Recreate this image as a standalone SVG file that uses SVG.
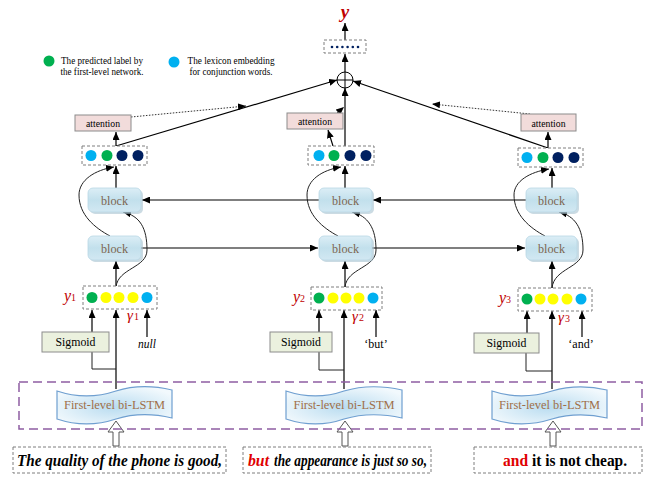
<svg xmlns="http://www.w3.org/2000/svg" width="652" height="477" viewBox="0 0 652 477">
<style>
.ser{font-family:"Liberation Serif","Times New Roman",serif}
.ln{fill:none;stroke:#000;stroke-width:1.2}
.thin{fill:none;stroke:#222;stroke-width:1}
.dot{fill:none;stroke:#333;stroke-width:1;stroke-dasharray:1.5 1.5}
.dbox{fill:#fff;stroke:#7f7f7f;stroke-width:1;stroke-dasharray:3 2}
.att{fill:#f2dcdb;stroke:#8c8c8c;stroke-width:1}
.sig{fill:#ebf1de;stroke:#8c8c8c;stroke-width:1}
.blk{fill:url(#gb);stroke:#b9d7e4;stroke-width:0.8}
.bsh{fill:#a8c3d0;opacity:0.6}
.btx{font-size:13px;fill:#7d6650}
.lstm{fill:url(#gl);stroke:#6f9fd0;stroke-width:1.2}
.ltx{font-size:13px;fill:#a06f48}
.red{fill:#c00000}
.g{fill:#00b050}.b{fill:#00b0f0}.n{fill:#002060}.y{fill:#ffff00}
.sent{font-size:16px;font-weight:bold}
.hol{fill:#fff;stroke:#555;stroke-width:1}
</style>
<defs>
<marker id="ah" markerUnits="userSpaceOnUse" markerWidth="8" markerHeight="7" refX="8" refY="3.5" orient="auto"><path d="M0,0 L8,3.5 L0,7 z" fill="#000"/></marker>
<linearGradient id="gb" x1="0" y1="0" x2="0" y2="1"><stop offset="0" stop-color="#dceef6"/><stop offset="0.5" stop-color="#c2e0ec"/><stop offset="1" stop-color="#d2e8f2"/></linearGradient>
<radialGradient id="gl" cx="0.5" cy="0.55" r="0.6"><stop offset="0" stop-color="#b9dcf0"/><stop offset="1" stop-color="#f2f9fd"/></radialGradient>
</defs>

<!-- legend -->
<g id="legend">
<circle cx="49" cy="61" r="5.5" class="g"/>
<text class="ser" font-size="9.5" x="102" y="64" text-anchor="middle" textLength="82" lengthAdjust="spacingAndGlyphs">The predicted label by</text>
<text class="ser" font-size="9.5" x="102" y="75" text-anchor="middle" textLength="83" lengthAdjust="spacingAndGlyphs">the first-level network.</text>
<circle cx="174" cy="62" r="5.5" class="b"/>
<text class="ser" font-size="9.5" x="231" y="64" text-anchor="middle" textLength="87" lengthAdjust="spacingAndGlyphs">The lexicon embedding</text>
<text class="ser" font-size="9.5" x="231" y="75" text-anchor="middle" textLength="83" lengthAdjust="spacingAndGlyphs">for conjunction words.</text>
</g>

<!-- connectors -->
<g id="connectors">
<line x1="345" y1="40" x2="345" y2="23" class="ln" marker-end="url(#ah)"/>
<line x1="345" y1="72" x2="345" y2="54" class="ln" marker-end="url(#ah)"/>
<line x1="116" y1="146" x2="337" y2="80" class="ln" marker-end="url(#ah)"/>
<line x1="345" y1="146" x2="345" y2="88" class="ln" marker-end="url(#ah)"/>
<line x1="548" y1="148" x2="353" y2="81" class="ln" marker-end="url(#ah)"/>
<line x1="131" y1="117" x2="246" y2="106" class="dot" marker-end="url(#ah)"/>
<line x1="337" y1="113" x2="344" y2="107" class="dot" marker-end="url(#ah)"/>
<line x1="530" y1="114" x2="432" y2="104" class="dot" marker-end="url(#ah)"/>
<line x1="116" y1="146" x2="116" y2="132" class="ln" marker-end="url(#ah)"/>
<line x1="333" y1="146" x2="328" y2="130" class="ln" marker-end="url(#ah)"/>
<line x1="548" y1="148" x2="548" y2="132" class="ln" marker-end="url(#ah)"/>
<line x1="319" y1="200" x2="142" y2="200" class="ln" marker-end="url(#ah)"/>
<line x1="526" y1="200" x2="373" y2="200" class="ln" marker-end="url(#ah)"/>
<line x1="141" y1="248" x2="318" y2="248" class="ln" marker-end="url(#ah)"/>
<line x1="372" y1="248" x2="525" y2="248" class="ln" marker-end="url(#ah)"/>
<line x1="116" y1="188" x2="116" y2="166" class="ln" marker-end="url(#ah)"/>
<line x1="116" y1="287" x2="116" y2="261" class="ln" marker-end="url(#ah)"/>
<path d="M116,287 C118,268 147,268 147,250 C147,228 140,216 123,212" class="thin" marker-end="url(#ah)"/>
<path d="M110,236 C95,228 79,215 79,195 C79,180 95,170 114,167" class="thin" marker-end="url(#ah)"/>
<line x1="116" y1="389" x2="116" y2="310" class="ln" marker-end="url(#ah)"/>
<polyline points="92,352 92,369 116,369" class="thin"/>
<line x1="92" y1="332" x2="92" y2="310" class="ln" marker-end="url(#ah)"/>
<line x1="147" y1="337" x2="147" y2="310" class="ln" marker-end="url(#ah)"/>
<line x1="345" y1="188" x2="345" y2="166" class="ln" marker-end="url(#ah)"/>
<line x1="345" y1="287" x2="345" y2="261" class="ln" marker-end="url(#ah)"/>
<path d="M345,287 C347,268 376,268 376,250 C376,228 368,216 352,212" class="thin" marker-end="url(#ah)"/>
<path d="M338,236 C323,228 307,215 307,195 C307,180 322,170 341,167" class="thin" marker-end="url(#ah)"/>
<line x1="344" y1="389" x2="344" y2="310" class="ln" marker-end="url(#ah)"/>
<polyline points="319,352 319,370 344,370" class="thin"/>
<line x1="319" y1="332" x2="319" y2="310" class="ln" marker-end="url(#ah)"/>
<line x1="376" y1="337" x2="376" y2="310" class="ln" marker-end="url(#ah)"/>
<line x1="552" y1="188" x2="552" y2="168" class="ln" marker-end="url(#ah)"/>
<line x1="552" y1="288" x2="552" y2="261" class="ln" marker-end="url(#ah)"/>
<path d="M552,288 C554,268 583,268 583,250 C583,228 575,216 559,212" class="thin" marker-end="url(#ah)"/>
<path d="M545,236 C530,228 514,215 514,195 C514,181 530,172 549,169" class="thin" marker-end="url(#ah)"/>
<line x1="552" y1="389" x2="552" y2="311" class="ln" marker-end="url(#ah)"/>
<polyline points="526,353 526,371 552,371" class="thin"/>
<line x1="527" y1="333" x2="527" y2="311" class="ln" marker-end="url(#ah)"/>
<line x1="582" y1="337" x2="582" y2="311" class="ln" marker-end="url(#ah)"/>
<polygon points="113,446 113,432 108,432 116,421 124,432 119,432 119,446" class="hol"/>
<polygon points="342,446 342,432 337,432 345,421 353,432 348,432 348,446" class="hol"/>
<polygon points="550,446 550,432 545,432 553,421 561,432 556,432 556,446" class="hol"/>
</g>

<g id="output-y">
<text class="ser red" x="345" y="18" font-size="19" font-style="italic" font-weight="bold" text-anchor="middle">y</text>
</g>
<g id="output-vector">
<rect x="324" y="40" width="42" height="13" class="dbox"/>
<g class="n"><circle cx="332" cy="47" r="1.3"/><circle cx="337.2" cy="47" r="1.3"/><circle cx="342.4" cy="47" r="1.3"/><circle cx="347.6" cy="47" r="1.3"/><circle cx="352.8" cy="47" r="1.3"/><circle cx="358" cy="47" r="1.3"/></g>
</g>
<g id="sum">
<circle cx="345" cy="80" r="8" fill="#fff" stroke="#000" stroke-width="1"/>
<line x1="337" y1="80" x2="353" y2="80" stroke="#000" stroke-width="1"/>
<line x1="345" y1="72" x2="345" y2="88" stroke="#000" stroke-width="1"/>
</g>

<g id="attention1"><rect x="75" y="115" width="56" height="16" class="att"/><text class="ser" font-size="11" x="103" y="127" text-anchor="middle" textLength="34" lengthAdjust="spacingAndGlyphs">attention</text></g>
<g id="attention2"><rect x="287" y="113" width="56" height="16" class="att"/><text class="ser" font-size="11" x="315" y="125" text-anchor="middle" textLength="34" lengthAdjust="spacingAndGlyphs">attention</text></g>
<g id="attention3"><rect x="521" y="114" width="55" height="17" class="att"/><text class="ser" font-size="11" x="548.5" y="126.5" text-anchor="middle" textLength="34" lengthAdjust="spacingAndGlyphs">attention</text></g>

<g id="vec4-1"><rect x="82" y="146" width="65" height="19" class="dbox"/><circle cx="91" cy="155.5" r="5.5" class="b"/><circle cx="107" cy="155.5" r="5.5" class="g"/><circle cx="122" cy="155.5" r="5.5" class="n"/><circle cx="138" cy="155.5" r="5.5" class="n"/></g>
<g id="vec4-2"><rect x="308" y="146" width="66" height="19" class="dbox"/><circle cx="319" cy="155.5" r="5.5" class="b"/><circle cx="334" cy="155.5" r="5.5" class="g"/><circle cx="350" cy="155.5" r="5.5" class="n"/><circle cx="366" cy="155.5" r="5.5" class="n"/></g>
<g id="vec4-3"><rect x="518" y="148" width="65" height="19" class="dbox"/><circle cx="527" cy="157.5" r="5.5" class="b"/><circle cx="543" cy="157.5" r="5.5" class="g"/><circle cx="558" cy="157.5" r="5.5" class="n"/><circle cx="574" cy="157.5" r="5.5" class="n"/></g>

<g id="block1-up"><rect x="90" y="190" width="53" height="24" rx="5" class="bsh"/><rect x="88" y="188" width="53" height="24" rx="5" class="blk"/><text class="ser btx" x="114.5" y="204.5" text-anchor="middle" textLength="27" lengthAdjust="spacingAndGlyphs">block</text></g>
<g id="block1-low"><rect x="90" y="238" width="53" height="24" rx="5" class="bsh"/><rect x="88" y="236" width="53" height="24" rx="5" class="blk"/><text class="ser btx" x="114.5" y="252.5" text-anchor="middle" textLength="27" lengthAdjust="spacingAndGlyphs">block</text></g>
<g id="block2-up"><rect x="321" y="190" width="53" height="24" rx="5" class="bsh"/><rect x="319" y="188" width="53" height="24" rx="5" class="blk"/><text class="ser btx" x="345.5" y="204.5" text-anchor="middle" textLength="27" lengthAdjust="spacingAndGlyphs">block</text></g>
<g id="block2-low"><rect x="321" y="238" width="53" height="24" rx="5" class="bsh"/><rect x="319" y="236" width="53" height="24" rx="5" class="blk"/><text class="ser btx" x="345.5" y="252.5" text-anchor="middle" textLength="27" lengthAdjust="spacingAndGlyphs">block</text></g>
<g id="block3-up"><rect x="528" y="190" width="51" height="24" rx="5" class="bsh"/><rect x="526" y="188" width="51" height="24" rx="5" class="blk"/><text class="ser btx" x="551.5" y="204.5" text-anchor="middle" textLength="27" lengthAdjust="spacingAndGlyphs">block</text></g>
<g id="block3-low"><rect x="528" y="238" width="51" height="24" rx="5" class="bsh"/><rect x="526" y="236" width="51" height="24" rx="5" class="blk"/><text class="ser btx" x="551.5" y="252.5" text-anchor="middle" textLength="27" lengthAdjust="spacingAndGlyphs">block</text></g>

<g id="vec5-1"><rect x="83" y="286" width="74" height="23" class="dbox"/><circle cx="92" cy="297.5" r="5.5" class="g"/><circle cx="106" cy="297.5" r="5.5" class="y"/><circle cx="119" cy="297.5" r="5.5" class="y"/><circle cx="133" cy="297.5" r="5.5" class="y"/><circle cx="147" cy="297.5" r="5.5" class="b"/>
<text class="ser red" x="64" y="301" font-size="16" font-style="italic">y<tspan font-size="10" font-style="normal">1</tspan></text>
<text class="ser red" x="127" y="320" font-size="15" font-style="italic">γ<tspan font-size="10" font-style="normal" dx="1">1</tspan></text></g>
<g id="vec5-2"><rect x="311" y="287" width="71" height="23" class="dbox"/><circle cx="319" cy="298" r="5.5" class="g"/><circle cx="333" cy="298" r="5.5" class="y"/><circle cx="346" cy="298" r="5.5" class="y"/><circle cx="359" cy="298" r="5.5" class="y"/><circle cx="373" cy="298" r="5.5" class="b"/>
<text class="ser red" x="293" y="302" font-size="16" font-style="italic">y<tspan font-size="10" font-style="normal">2</tspan></text>
<text class="ser red" x="352" y="321" font-size="15" font-style="italic">γ<tspan font-size="10" font-style="normal" dx="1">2</tspan></text></g>
<g id="vec5-3"><rect x="518" y="288" width="74" height="23" class="dbox"/><circle cx="527" cy="299" r="5.5" class="g"/><circle cx="540" cy="299" r="5.5" class="y"/><circle cx="553" cy="299" r="5.5" class="y"/><circle cx="567" cy="299" r="5.5" class="y"/><circle cx="581" cy="299" r="5.5" class="b"/>
<text class="ser red" x="499" y="303" font-size="16" font-style="italic">y<tspan font-size="10" font-style="normal">3</tspan></text>
<text class="ser red" x="558" y="322" font-size="15" font-style="italic">γ<tspan font-size="10" font-style="normal" dx="1">3</tspan></text></g>

<g id="sigmoid1"><rect x="42" y="332" width="67" height="20" class="sig"/><text class="ser" font-size="12.5" x="75.5" y="346" text-anchor="middle" textLength="40" lengthAdjust="spacingAndGlyphs">Sigmoid</text></g>
<g id="sigmoid2"><rect x="270" y="332" width="62" height="20" class="sig"/><text class="ser" font-size="12.5" x="301" y="346" text-anchor="middle" textLength="40" lengthAdjust="spacingAndGlyphs">Sigmoid</text></g>
<g id="sigmoid3"><rect x="474" y="333" width="65" height="20" class="sig"/><text class="ser" font-size="12.5" x="506.5" y="347" text-anchor="middle" textLength="40" lengthAdjust="spacingAndGlyphs">Sigmoid</text></g>

<g id="conj1"><text class="ser" font-size="11.5" font-style="italic" x="147" y="348" text-anchor="middle">null</text></g>
<g id="conj2"><text class="ser" font-size="12" x="376" y="348" text-anchor="middle">‘but’</text></g>
<g id="conj3"><text class="ser" font-size="12" x="581" y="348" text-anchor="middle">‘and’</text></g>

<g id="first-level-frame"><rect x="19" y="382" width="623" height="47" fill="none" stroke="#8e5ea2" stroke-width="1.5" stroke-dasharray="9 5"/></g>

<g id="lstm1"><path d="M57,391 C75,397 95,398 116,391 C135,385 155,386 172,390 L172,418 C155,414 135,413 116,419 C95,426 75,425 57,419 Z" class="lstm"/><text class="ser ltx" x="114.5" y="409" text-anchor="middle" textLength="101" lengthAdjust="spacingAndGlyphs">First-level bi-LSTM</text></g>
<g id="lstm2"><path d="M286,391 C304,397 324,398 344,391 C364,385 384,386 402,390 L402,418 C384,414 364,413 344,419 C324,426 304,425 286,419 Z" class="lstm"/><text class="ser ltx" x="344" y="409" text-anchor="middle" textLength="101" lengthAdjust="spacingAndGlyphs">First-level bi-LSTM</text></g>
<g id="lstm3"><path d="M492,391 C510,397 530,398 552,391 C572,385 590,386 607,390 L607,418 C590,414 572,413 552,419 C530,426 510,425 492,419 Z" class="lstm"/><text class="ser ltx" x="549.5" y="409" text-anchor="middle" textLength="101" lengthAdjust="spacingAndGlyphs">First-level bi-LSTM</text></g>

<g id="sentence1"><rect x="13" y="447" width="213" height="26" class="dbox"/><text class="ser sent" font-style="italic" x="17" y="466" textLength="205" lengthAdjust="spacingAndGlyphs">The quality of the phone is good,</text></g>
<g id="sentence2"><rect x="243" y="447" width="188" height="26" class="dbox"/><text class="ser sent" font-style="italic" x="248" y="466" fill="#e00000" textLength="21" lengthAdjust="spacingAndGlyphs">but</text><text class="ser sent" font-style="italic" x="274" y="466" textLength="153" lengthAdjust="spacingAndGlyphs">the appearance is just so so,</text></g>
<g id="sentence3"><rect x="474" y="447" width="168" height="26" class="dbox"/><text class="ser sent" x="503" y="466" fill="#e00000" textLength="25" lengthAdjust="spacingAndGlyphs">and</text><text class="ser sent" x="532" y="466" textLength="95" lengthAdjust="spacingAndGlyphs">it is not cheap.</text></g>
</svg>
